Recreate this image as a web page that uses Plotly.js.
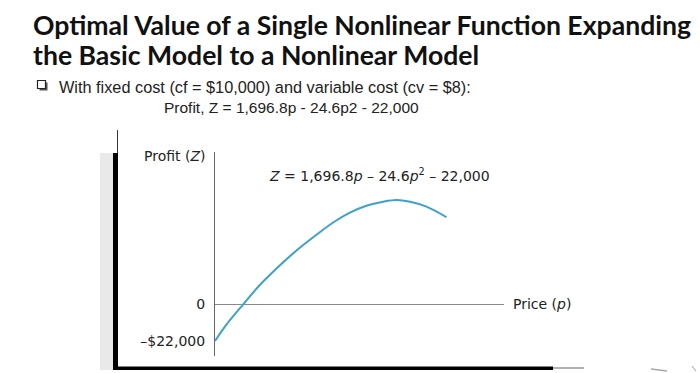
<!DOCTYPE html>
<html>
<head>
<meta charset="utf-8">
<script src="https://cdn.plot.ly/plotly-3.0.1.min.js"></script>
<style>
  html, body { margin: 0; padding: 0; background: #ffffff; }
  #chart { width: 700px; height: 373px; }
</style>
</head>
<body>
<div id="chart"></div>
<script>
// Curve as drawn in the figure (price p, profit Z in the figure's drawn scale)
const price = [0, 2.2, 5.4, 8.5, 11.7, 14.8, 19.3, 22.4, 25.6, 28.7, 31.9, 34.4, 37.0, 40.1, 43.9];
const profit = [-22000, -12100, 0, 11300, 21200, 30100, 41300, 48500, 54300, 58400, 60800, 61800, 60800, 57900, 51600];
const yTickVals = [0, -22000];
const yTickText = ['0', '\u2013$22,000'];

const titleLines = ['Optimal Value of a Single Nonlinear Function Expanding', 'the Basic Model to a Nonlinear Model'];
const bulletText = 'With fixed cost (cf = $10,000) and variable cost (cv = $8):';
const formulaText = 'Profit, Z = 1,696.8p - 24.6p2 - 22,000';
const curveLabel = '<i>Z</i> = 1,696.8<i>p</i> \u2013 24.6<i>p</i><sup>2</sup> \u2013 22,000';
const yAxisLabel = 'Profit (<i>Z</i>)';
const xAxisLabel = 'Price (<i>p</i>)';

// pixel -> paper helpers (plot area spans x 215..504, y 152..356)
const L = 215, R = 504, T = 152, B = 356;
const px = x => (x - L) / (R - L);
const py = y => (B - y) / (B - T);

const sansFont = 'Liberation Sans, Arial, sans-serif';
const figFont = 'DejaVu Sans, sans-serif';
const figSize = 14;

const trace = {
  x: price, y: profit, type: 'scatter', mode: 'lines',
  line: { color: '#3fa1c8', width: 2, shape: 'spline', smoothing: 1 },
  hoverinfo: 'skip', showlegend: false
};

const shapes = [
  { type: 'rect', xref: 'paper', yref: 'paper', x0: px(100), x1: px(113), y0: py(153), y1: py(370), fillcolor: '#e9e9e9', line: { width: 0 }, layer: 'below' },
  { type: 'rect', xref: 'paper', yref: 'paper', x0: px(113), x1: px(118), y0: py(153), y1: py(370), fillcolor: '#000', line: { width: 0 } },
  { type: 'line', xref: 'paper', yref: 'paper', x0: px(117.5), x1: px(117.5), y0: py(130), y1: py(153), line: { color: '#333', width: 1 } },
  { type: 'rect', xref: 'paper', yref: 'paper', x0: px(113), x1: px(553), y0: py(366.5), y1: py(370), fillcolor: '#000', line: { width: 0 } },
  { type: 'line', xref: 'paper', yref: 'paper', x0: px(553), x1: px(584), y0: py(368), y1: py(368), line: { color: '#999', width: 1.5 } },
  { type: 'line', xref: 'paper', yref: 'paper', x0: px(651), x1: px(667), y0: py(369), y1: py(371), line: { color: '#a8a8a8', width: 1.5 } },
  { type: 'line', xref: 'paper', yref: 'paper', x0: px(692), x1: px(696), y0: py(366), y1: py(371), line: { color: '#b0b0b0', width: 1.2 } },
  { type: 'rect', xref: 'paper', yref: 'paper', x0: px(39.5), x1: px(47.5), y0: py(82.5), y1: py(90.5), fillcolor: '#555', line: { width: 0 } },
  { type: 'rect', xref: 'paper', yref: 'paper', x0: px(37.5), x1: px(45.5), y0: py(80.5), y1: py(88.5), fillcolor: '#fff', line: { color: '#222', width: 1.2 } }
];

const annotations = [
  { text: '<b>' + titleLines[0] + '</b>', xref: 'paper', yref: 'paper', x: px(31), y: py(25), xanchor: 'left', yanchor: 'middle', showarrow: false, font: { family: 'Lato, sans-serif', size: 26.6, color: '#111' } },
  { text: '<b>' + titleLines[1] + '</b>', xref: 'paper', yref: 'paper', x: px(31), y: py(55.5), xanchor: 'left', yanchor: 'middle', showarrow: false, font: { family: 'Lato, sans-serif', size: 26.6, color: '#111' } },
  { text: bulletText, xref: 'paper', yref: 'paper', x: px(57), y: py(86.5), xanchor: 'left', yanchor: 'middle', showarrow: false, font: { family: sansFont, size: 16.3, color: '#222' } },
  { text: formulaText, xref: 'paper', yref: 'paper', x: px(162), y: py(107.5), xanchor: 'left', yanchor: 'middle', showarrow: false, font: { family: sansFont, size: 15.5, color: '#222' } },
  { text: curveLabel, xref: 'paper', yref: 'paper', x: px(267), y: py(175), xanchor: 'left', yanchor: 'middle', showarrow: false, font: { family: figFont, size: figSize, color: '#222' } },
  { text: yAxisLabel, xref: 'paper', yref: 'paper', x: px(208), y: py(156), xanchor: 'right', yanchor: 'middle', showarrow: false, font: { family: figFont, size: figSize, color: '#222' } },
  { text: xAxisLabel, xref: 'paper', yref: 'paper', x: px(511), y: py(304), xanchor: 'left', yanchor: 'middle', showarrow: false, font: { family: figFont, size: figSize, color: '#222' } }
];

const layout = {
  width: 700, height: 373,
  margin: { l: L, r: 700 - R, t: T, b: 373 - B, pad: 0 },
  paper_bgcolor: '#ffffff', plot_bgcolor: '#ffffff',
  showlegend: false,
  xaxis: { range: [0, 54.8], showgrid: false, zeroline: false, showline: false, showticklabels: false, ticks: '', fixedrange: true },
  yaxis: {
    range: [-30900, 90400], showgrid: false,
    zeroline: true, zerolinecolor: '#8a8a8a', zerolinewidth: 1,
    showline: true, linecolor: '#666', linewidth: 1,
    tickmode: 'array', tickvals: yTickVals, ticktext: yTickText, ticks: '',
    ticklabelstandoff: 6,
    tickfont: { family: figFont, size: figSize, color: '#222' }, fixedrange: true
  },
  shapes: shapes,
  annotations: annotations
};

Plotly.newPlot('chart', [trace], layout, { staticPlot: true, displayModeBar: false });
</script>
</body>
</html>
